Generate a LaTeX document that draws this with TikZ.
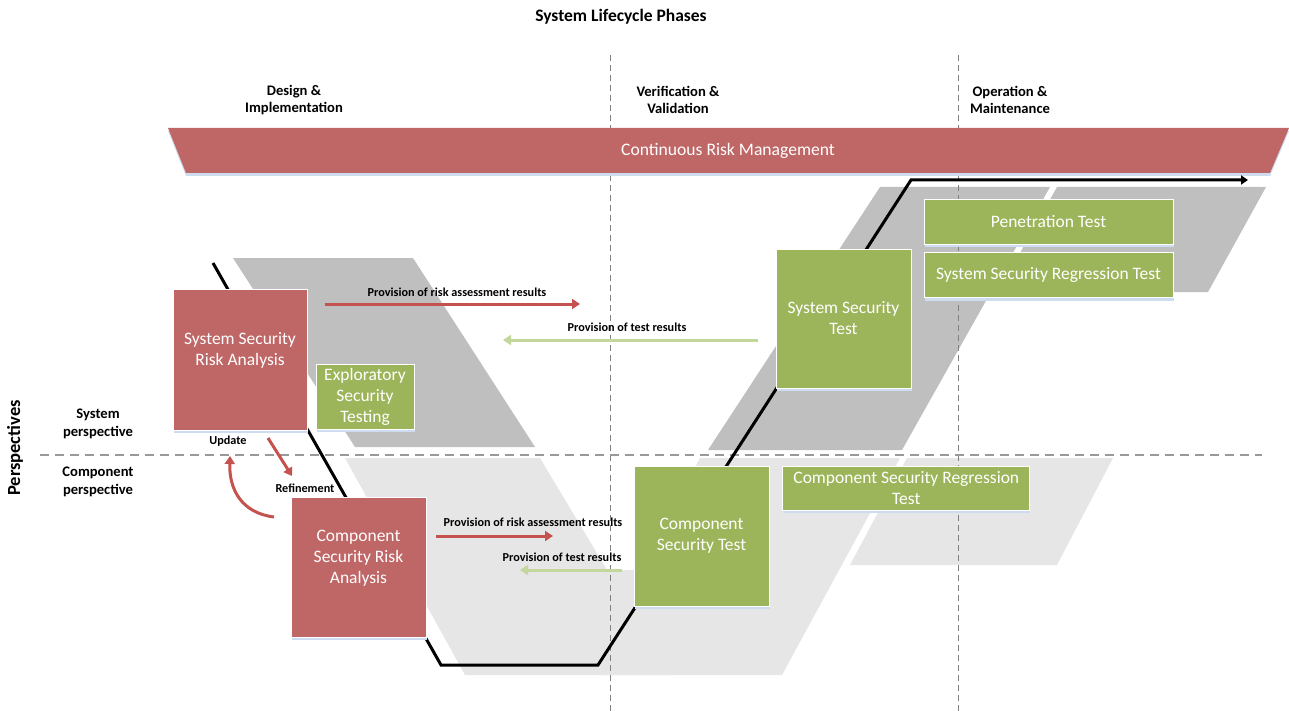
\documentclass[tikz,border=0pt]{standalone}
\usepackage{fontspec}
\setmainfont{Carlito}
\usetikzlibrary{positioning,arrows.meta,shadows}

\definecolor{riskred}{RGB}{191,102,102}
\definecolor{arrowred}{RGB}{196,82,78}
\definecolor{testgreen}{RGB}{157,181,90}
\definecolor{arrowgreen}{RGB}{195,214,155}
\definecolor{sysgray}{RGB}{191,191,191}
\definecolor{compgray}{RGB}{230,230,230}
\definecolor{shadowblue}{RGB}{205,220,238}
\newcommand{\flowfont}{\fontsize{12.2}{14}\selectfont\bfseries}
\newcommand{\headfont}{\fontsize{14.6}{17}\selectfont\bfseries}
\newcommand{\boxfont}{\fontsize{17.5}{21}\selectfont}

\begin{document}
\begin{tikzpicture}[x=1pt,y=-1pt,
    box/.style={draw=white,line width=0.8pt,text=white,align=center,inner sep=0pt,font=\boxfont,
      drop shadow={shadow xshift=0.5pt,shadow yshift=-3pt,fill=shadowblue,opacity=1}},
    riskbox/.style={box,fill=riskred},
    testbox/.style={box,fill=testgreen},
    riskflow/.style={draw=arrowred,line width=3pt,-{Triangle[width=10pt,length=8pt]}},
    testflow/.style={draw=arrowgreen,line width=3pt,-{Triangle[width=10pt,length=8pt]}},
    flowlabel/.style={font=\flowfont,inner sep=1pt},
    phase/.style={font=\headfont,align=center},
    level/.style={font=\fontsize{14.6}{18}\selectfont\bfseries,align=center},
    phasesep/.style={draw=gray,line width=0.8pt,dash pattern=on 6pt off 4pt},
    levelsep/.style={draw=gray!80,line width=1.3pt,dash pattern=on 9pt off 6pt}]
  \useasboundingbox (0,0) rectangle (1289,711);

  % shaded phase areas
  \fill[sysgray] (233,258) -- (413,258) -- (535,447) -- (355,447) -- cycle;
  \fill[sysgray] (880,187) -- (1050,187) -- (902,450) -- (708,450) -- cycle;
  \fill[sysgray] (1057,187) -- (1266,187) -- (1208,292) -- (998,292) -- cycle;
  \fill[compgray] (345,458) -- (540,458) -- (670,675) -- (465,675) -- cycle;
  \fill[compgray] (700,458) -- (900,458) -- (782,675) -- (600,675) -- (600,570) -- (640,570) -- cycle;
  \fill[compgray] (907,458) -- (1113,458) -- (1057,565) -- (850,565) -- cycle;

  % separators
  \draw[phasesep] (610,55) -- (610,711);
  \draw[phasesep] (958,55) -- (958,711);
  \draw[levelsep] (40,455) -- (1262,455);

  % headings
  \node[font=\fontsize{17.5}{20}\selectfont\bfseries] (title) at (621,17) {System Lifecycle Phases};
  \node[phase] (design) at (294,100) {Design \&\\Implementation};
  \node[phase] (verif) at (678,100) {Verification \&\\Validation};
  \node[phase] (operation) at (1010,100) {Operation \&\\Maintenance};
  \node[rotate=90,font=\fontsize{18.5}{20}\selectfont\bfseries] (persp) at (15,448) {Perspectives};
  \node[level] (syslevel) at (98,424) {System\\perspective};
  \node[level] (complevel) at (98,482) {Component\\perspective};

  % risk management band
  \fill[riskred,drop shadow={shadow xshift=0pt,shadow yshift=-3pt,fill=shadowblue,opacity=1}]
    (168,128) -- (1289,128) -- (1270,173) -- (186,173) -- cycle;
  \node[text=white,font=\fontsize{17.6}{20}\selectfont] (crm) at (728,151) {Continuous Risk Management};

  % V path
  \coordinate (vstart) at (213,263);
  \coordinate (vlow) at (441,665);
  \coordinate (vbottom) at (598,665);
  \coordinate (vhigh) at (911,180);
  \coordinate (vend) at (1248,180);
  \draw[line width=3pt,-{Triangle[width=9pt,length=7pt]}] (vstart) -- (vlow) -- (vbottom) -- (vhigh) -- (vend);

  % activities
  \node[riskbox,minimum width=134,minimum height=141] (ssra) at (240,359.5) {System Security\\Risk Analysis\\\mbox{}};
  \node[testbox,minimum width=98,minimum height=65] (est) at (365,396.5) {Exploratory\\Security\\Testing};
  \node[riskbox,minimum width=135,minimum height=140] (csra) at (358.5,567) {Component\\Security Risk\\Analysis\\\mbox{}};
  \node[testbox,minimum width=135,minimum height=140] (cst) at (701.5,536) {Component\\Security Test};
  \node[testbox,minimum width=135,minimum height=139] (sst) at (843.5,318.5) {System Security\\Test};
  \node[testbox,minimum width=249,minimum height=45] (pentest) at (1048.5,221.5) {Penetration Test};
  \node[testbox,minimum width=249,minimum height=45,below=8pt of pentest] (ssrt) {System Security Regression Test};
  \node[testbox,minimum width=247,minimum height=44,right=13pt of cst.north east,anchor=north west] (csrt) {Component Security Regression\\Test};

  % information flows
  \coordinate (sysrisk1) at (325,304);
  \coordinate (sysrisk2) at (580,304);
  \draw[riskflow] (sysrisk1) -- (sysrisk2);
  \node[flowlabel] (sysrisklabel) at (457,292) {Provision of risk assessment results};
  \coordinate (systest1) at (758,340);
  \coordinate (systest2) at (503,340);
  \draw[testflow] (systest1) -- (systest2);
  \node[flowlabel] (systestlabel) at (627,327) {Provision of test results};
  \coordinate (comprisk1) at (436,536);
  \coordinate (comprisk2) at (553,536);
  \draw[riskflow] (comprisk1) -- (comprisk2);
  \node[flowlabel] (comprisklabel) at (533,522) {Provision of risk assessment results};
  \coordinate (comptest1) at (622,570);
  \coordinate (comptest2) at (520,570);
  \draw[testflow] (comptest1) -- (comptest2);
  \node[flowlabel] (comptestlabel) at (562,557) {Provision of test results};

  % update / refinement
  \coordinate (upfrom) at (274,517);
  \coordinate (upto) at (230,456);
  \draw[riskflow] (upfrom) .. controls (242,513) and (229,490) .. (upto);
  \node[flowlabel] (update) at (228,441) {Update};
  \coordinate (refinefrom) at (268,438);
  \coordinate (refineto) at (292,476);
  \draw[riskflow] (refinefrom) -- (refineto);
  \node[flowlabel] (refinement) at (305,488) {Refinement};
\end{tikzpicture}
\end{document}
